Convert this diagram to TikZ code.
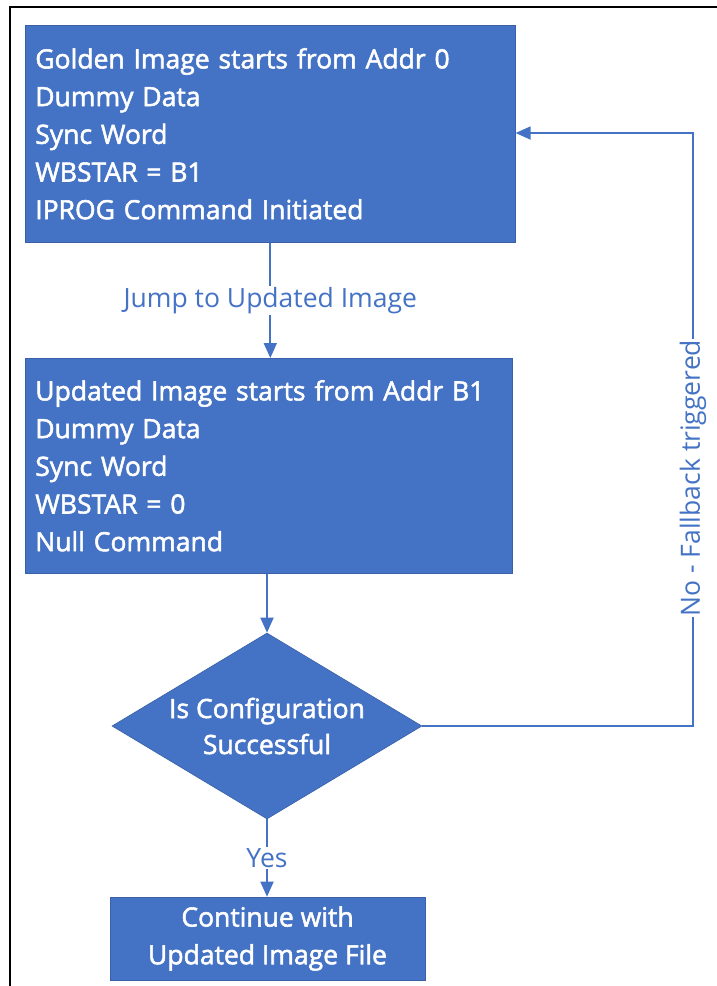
\documentclass[tikz,border=0pt]{standalone}
\usepackage{fontspec}
\setmainfont{Open Sans}
\newfontfamily\semib[FakeBold=2]{Open Sans}
\usetikzlibrary{shapes.geometric,arrows.meta}
\definecolor{oblue}{HTML}{4472C4}
\begin{document}
\begin{tikzpicture}[x=1pt,y=-1pt,
  box/.style={fill=oblue, draw=oblue!85!black, line width=0.6pt, text=white, inner ysep=0pt, font=\semib\fontsize{26.5}{37.7}\selectfont},
  dec/.style={diamond, fill=oblue, draw=oblue!85!black, line width=0.6pt, text=white, inner sep=0pt, aspect=1.667, minimum width=310pt, minimum height=186pt, align=center, font=\semib\fontsize{26.5}{36}\selectfont},
  conn/.style={draw=oblue, line width=1.8pt, -{Triangle[width=13pt,length=15pt]}},
  lbl/.style={fill=white, text=oblue, inner sep=1pt, font=\fontsize{26.5}{28}\selectfont}
]
\useasboundingbox (0,0) rectangle (717,986);
\draw[line width=2.4pt] (10,986) -- (10,7) -- (717,7);

\node[box, anchor=north west, minimum width=490pt, minimum height=217pt, text width=470pt, inner xsep=10pt, align=left] (b1) at (25,25)
  {Golden Image starts from Addr 0\\Dummy Data\\Sync Word\\WBSTAR = B1\\IPROG Command Initiated};

\node[box, anchor=north west, minimum width=487pt, minimum height=215pt, text width=467pt, inner xsep=10pt, align=left] (b2) at (25,358)
  {Updated Image starts from Addr B1\\Dummy Data\\Sync Word\\WBSTAR = 0\\Null Command};

\node[dec] (d) at (267,726) {Is Configuration\\Successful};

\node[box, minimum width=315pt, minimum height=83pt, align=center] (b3) at (267.5,938.5)
  {Continue with\\Updated Image File};

\coordinate (c1) at (693,726);
\coordinate (c2) at (693,133);

\draw[conn] (b1.south) -- node[lbl] {Jump to Updated Image} (b1.south |- b2.north);
\draw[conn] (d.north |- b2.south) -- (d.north);
\draw[conn] (d.south) -- node[lbl] {Yes} (d.south |- b3.north);
\draw[conn] (d.east) -- (c1) -- node[lbl, pos=0.418, rotate=90] {No - Fallback triggered} (c2) -- (c2 -| b1.east);
\end{tikzpicture}
\end{document}
